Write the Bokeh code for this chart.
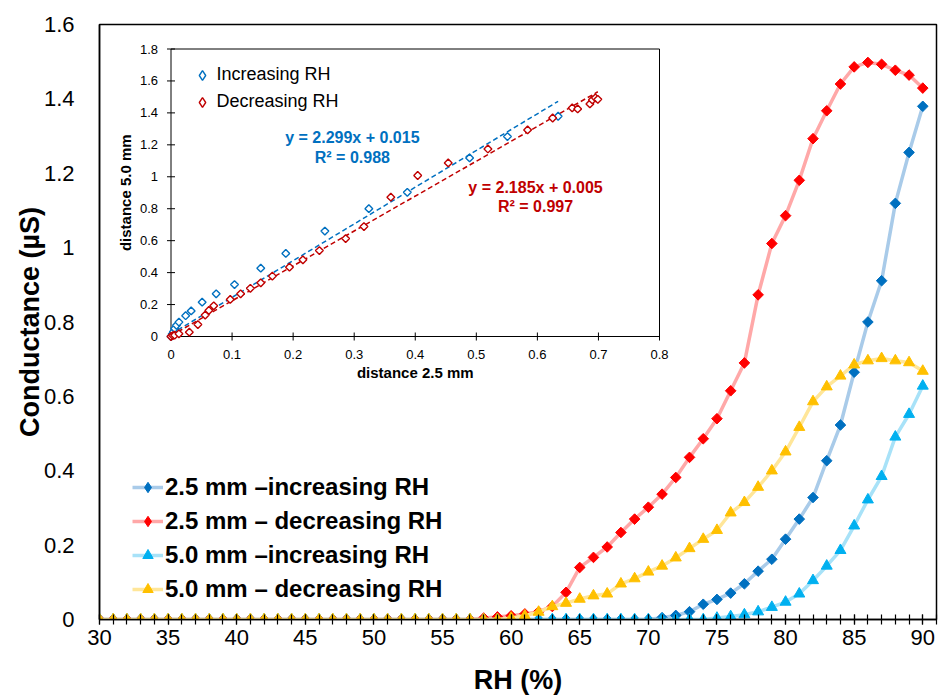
import numpy as np
from bokeh.plotting import figure
from bokeh.models import (Range1d, FixedTicker, NumeralTickFormatter, Legend,
                          LegendItem, ColumnDataSource)
from bokeh.core.properties import value
from bokeh.embed import file_html
from bokeh.resources import INLINE

# ---------------- data: main chart ----------------
rh = [30, 31, 32, 33, 34, 35, 36, 37, 38, 39, 40, 41, 42, 43, 44, 45, 46, 47, 48, 49,
      50, 51, 52, 53, 54, 55, 56, 57, 58, 59, 60, 61, 62, 63, 64, 65, 66, 67, 68, 69,
      70, 71, 72, 73, 74, 75, 76, 77, 78, 79, 80, 81, 82, 83, 84, 85, 86, 87, 88, 89, 90]

cond_25_inc = [0, 0, 0, 0, 0, 0, 0, 0, 0, 0, 0, 0, 0, 0, 0, 0, 0, 0, 0, 0,
               0, 0, 0, 0, 0, 0, 0, 0, 0, 0, 0, 0, 0, 0, 0, 0, 0, 0, 0, 0,
               0, 0.005, 0.011, 0.021, 0.041, 0.054, 0.071, 0.096, 0.130, 0.162,
               0.216, 0.270, 0.328, 0.427, 0.523, 0.665, 0.800, 0.911, 1.119, 1.256, 1.380]

cond_25_dec = [0, 0, 0, 0, 0, 0, 0, 0, 0, 0, 0, 0, 0, 0, 0, 0, 0, 0, 0, 0,
               0, 0, 0, 0, 0, 0, 0, 0, 0.004, 0.007, 0.010, 0.015, 0.021, 0.035, 0.073,
               0.140, 0.167, 0.195, 0.234, 0.270, 0.302, 0.337, 0.382, 0.436, 0.486,
               0.540, 0.615, 0.690, 0.873, 1.011, 1.086, 1.181, 1.293, 1.368, 1.440,
               1.486, 1.498, 1.493, 1.477, 1.464, 1.429]

cond_50_inc = [0, 0, 0, 0, 0, 0, 0, 0, 0, 0, 0, 0, 0, 0, 0, 0, 0, 0, 0, 0,
               0, 0, 0, 0, 0, 0, 0, 0, 0, 0, 0, 0, 0, 0, 0, 0, 0, 0, 0, 0,
               0, 0, 0, 0, 0, 0.004, 0.008, 0.013, 0.021, 0.033, 0.047, 0.069, 0.105,
               0.144, 0.186, 0.252, 0.322, 0.385, 0.491, 0.552, 0.628]

cond_50_dec = [0, 0, 0, 0, 0, 0, 0, 0, 0, 0, 0, 0, 0, 0, 0, 0, 0, 0, 0, 0,
               0, 0, 0, 0, 0, 0, 0, 0, 0, 0, 0.004, 0.010, 0.020, 0.035, 0.044, 0.055,
               0.064, 0.069, 0.096, 0.110, 0.128, 0.144, 0.166, 0.191, 0.216, 0.240,
               0.287, 0.315, 0.356, 0.400, 0.451, 0.517, 0.586, 0.626, 0.655, 0.685,
               0.696, 0.702, 0.696, 0.691, 0.668]

series_labels = ["2.5 mm \u2013increasing RH", "2.5 mm \u2013 decreasing RH",
                 "5.0 mm \u2013increasing RH", "5.0 mm \u2013 decreasing RH"]

x_ticks = [30, 35, 40, 45, 50, 55, 60, 65, 70, 75, 80, 85, 90]
y_ticks = [0, 0.2, 0.4, 0.6, 0.8, 1.0, 1.2, 1.4, 1.6]

# ---------------- data: inset ----------------
inc_x = [0, 0.002, 0.004, 0.006, 0.009, 0.013, 0.024, 0.033, 0.051, 0.074, 0.104,
         0.147, 0.188, 0.252, 0.324, 0.387, 0.489, 0.551, 0.634]
inc_y = [0, 0.015, 0.030, 0.050, 0.070, 0.090, 0.130, 0.160, 0.215, 0.267, 0.325,
         0.428, 0.520, 0.660, 0.800, 0.903, 1.118, 1.252, 1.379]
dec_x = [0, 0.003, 0.006, 0.013, 0.030, 0.044, 0.056, 0.062, 0.070, 0.097, 0.114,
         0.130, 0.147, 0.166, 0.194, 0.216, 0.243, 0.286, 0.316, 0.360, 0.404,
         0.454, 0.519, 0.584, 0.625, 0.657, 0.666, 0.686, 0.690, 0.695, 0.699]
dec_y = [0, 0.006, 0.008, 0.017, 0.027, 0.075, 0.134, 0.163, 0.192, 0.232, 0.267,
         0.302, 0.336, 0.378, 0.434, 0.480, 0.538, 0.613, 0.688, 0.872, 1.008,
         1.087, 1.174, 1.293, 1.368, 1.431, 1.425, 1.456, 1.481, 1.494, 1.485]
inc_fit = (2.299, 0.015, 0.988)
dec_fit = (2.185, 0.005, 0.997)
inset_labels = ["Increasing RH", "Decreasing RH"]
ix_ticks = [0, 0.1, 0.2, 0.3, 0.4, 0.5, 0.6, 0.7, 0.8]
ix_labels = ["0", "0.1", "0.2", "0.3", "0.4", "0.5", "0.6", "0.7", "0.8"]
iy_ticks = [0, 0.2, 0.4, 0.6, 0.8, 1.0, 1.2, 1.4, 1.6, 1.8]
iy_labels = ["0", "0.2", "0.4", "0.6", "0.8", "1", "1.2", "1.4", "1.6", "1.8"]

FONT = "Liberation Sans"

# ---------------- layout constants (pixels) ----------------
W, H = 938, 697
FL, FR, FT, FB = 99, 936, 24, 619           # main frame
IL, IR, IT, IB = 170.5, 659.0, 48.5, 336.0  # inset frame

p = figure(width=W, height=H, output_backend="svg", toolbar_location=None,
           x_range=Range1d(30, 91), y_range=Range1d(0, 1.6),
           min_border_left=FL, min_border_right=W - FR,
           min_border_top=FT, min_border_bottom=H - FB)
p.background_fill_color = "white"
p.border_fill_color = "white"
p.outline_line_color = "black"
p.outline_line_width = 1.5
p.xgrid.visible = False
p.ygrid.visible = False

# x axis
xa = p.xaxis[0]
xa.ticker = FixedTicker(ticks=x_ticks, minor_ticks=rh + [91])
xa.axis_line_color = "black"
xa.axis_line_width = 1.5
xa.major_tick_in = 5
xa.major_tick_out = 5
xa.minor_tick_in = 5
xa.minor_tick_out = 5
xa.major_tick_line_color = "black"
xa.minor_tick_line_color = "black"
xa.major_tick_line_width = 1.2
xa.minor_tick_line_width = 1.2
xa.major_label_text_font = FONT
xa.major_label_text_font_size = "22px"
xa.major_label_text_color = "black"
xa.major_label_standoff = 5
xa.axis_label = "RH (%)"
xa.axis_label_text_font = FONT
xa.axis_label_text_font_size = "27px"
xa.axis_label_text_font_style = "bold"
xa.axis_label_text_color = "black"
xa.axis_label_standoff = 17

# y axis
ya = p.yaxis[0]
ya.ticker = FixedTicker(ticks=y_ticks, minor_ticks=[])
ya.formatter = NumeralTickFormatter(format="0.[0]")
ya.axis_line_color = "black"
ya.axis_line_width = 1.5
ya.major_tick_in = 0
ya.major_tick_out = 0
ya.minor_tick_in = 0
ya.minor_tick_out = 0
ya.major_label_text_font = FONT
ya.major_label_text_font_size = "22px"
ya.major_label_text_color = "black"
ya.major_label_standoff = 25
ya.axis_label = "Conductance (\u00b5S)"
ya.axis_label_text_font = FONT
ya.axis_label_text_font_size = "27px"
ya.axis_label_text_font_style = "bold"
ya.axis_label_text_color = "black"
ya.axis_label_standoff = -4

# ---------------- main series ----------------
# (values, line colour, plot marker, legend-key marker, angle, size, marker colour)
styles = [
    (cond_25_inc, "#A9CBE9", "square", "diamond", np.pi / 4, 7.5, "#0070C0"),
    (cond_25_dec, "#FFA8A8", "square", "diamond", np.pi / 4, 7.5, "#FF0000"),
    (cond_50_inc, "#A8E2F8", "triangle", None, 0.0, 11, "#00B0F0"),
    (cond_50_dec, "#FFE699", "triangle", None, 0.0, 11, "#FFC000"),
]
legend_items = []
for (vals, lc, mk, kmk, ang, sz, mc), lab in zip(styles, series_labels):
    src = ColumnDataSource(dict(x=rh, y=vals))
    ln = p.line("x", "y", source=src, line_color=lc, line_width=3.5)
    key = None
    if kmk is not None:
        # diamond key for the legend, hidden underneath the rotated-square markers
        key = p.scatter("x", "y", source=src, marker=kmk, size=8.5,
                        fill_color=mc, line_color=mc, line_width=1)
    sc = p.scatter("x", "y", source=src, marker=mk, angle=ang, size=sz,
                   fill_color=mc, line_color=mc, line_width=1)
    legend_items.append(LegendItem(label=lab, renderers=[ln, key if key is not None else sc]))

leg = Legend(items=legend_items, location=(33, 16), orientation="vertical",
             label_text_font=FONT, label_text_font_size="24px",
             label_text_font_style="bold", label_text_color="black",
             glyph_width=31, glyph_height=26, label_height=28, label_standoff=2,
             spacing=6, padding=0, margin=0,
             background_fill_alpha=0, border_line_alpha=0)
p.add_layout(leg, "center")

# ---------------- inset (own scales mapped into the inset box) ----------------
ppx = (IR - IL) / (ix_ticks[-1] - ix_ticks[0])
ppy = (IB - IT) / (iy_ticks[-1] - iy_ticks[0])
sx0 = ix_ticks[0] - (IL - FL) / ppx
sy0 = iy_ticks[0] - (FB - IB) / ppy
p.extra_x_ranges = {"ix": Range1d(sx0, sx0 + (FR - FL) / ppx)}
p.extra_y_ranges = {"iy": Range1d(sy0, sy0 + (FB - FT) / ppy)}
kw = dict(x_range_name="ix", y_range_name="iy")

BLUE, RED = "#0070C0", "#C00000"

# inset frame
p.quad(left=[ix_ticks[0]], right=[ix_ticks[-1]], bottom=[iy_ticks[0]], top=[iy_ticks[-1]],
       fill_color="white", line_color="black", line_width=1, **kw)

# tick marks (cross)
tpx = 4.0
p.segment(x0=ix_ticks, x1=ix_ticks, y0=[-tpx / ppy] * len(ix_ticks),
          y1=[tpx / ppy] * len(ix_ticks), line_color="black", line_width=1, **kw)
p.segment(x0=[-tpx / ppx] * len(iy_ticks), x1=[tpx / ppx] * len(iy_ticks),
          y0=iy_ticks, y1=iy_ticks, line_color="black", line_width=1, **kw)

# tick labels
p.text(x=ix_ticks, y=[0] * len(ix_ticks), text=ix_labels, text_align="center",
       text_baseline="middle", y_offset=18, text_font=value(FONT),
       text_font_size="13px", text_color="black", **kw)
p.text(x=[0] * len(iy_ticks), y=iy_ticks, text=iy_labels, text_align="right",
       text_baseline="middle", x_offset=-13, text_font=value(FONT),
       text_font_size="13px", text_color="black", **kw)

# axis titles
p.text(x=[(ix_ticks[0] + ix_ticks[-1]) / 2], y=[0], text=["distance 2.5 mm"],
       text_align="center", text_baseline="middle", y_offset=36,
       text_font=value(FONT), text_font_size="15px", text_font_style="bold",
       text_color="black", **kw)
p.text(x=[0], y=[(iy_ticks[0] + iy_ticks[-1]) / 2], text=["distance 5.0 mm"],
       angle=np.pi / 2, text_align="center", text_baseline="middle", x_offset=-46,
       text_font=value(FONT), text_font_size="15px", text_font_style="bold",
       text_color="black", **kw)

# trend lines
for xs, (m, b, r2), col in [(inc_x, inc_fit, BLUE), (dec_x, dec_fit, RED)]:
    xe = [min(xs), max(xs)]
    p.line(x=xe, y=[m * v + b for v in xe], line_color=col, line_width=1.5,
           line_dash="5 3", **kw)

ikeys = []
for xs, ys, col in [(inc_x, inc_y, BLUE), (dec_x, dec_y, RED)]:
    isrc = ColumnDataSource(dict(x=xs, y=ys))
    # diamond legend key, hidden under the white-filled rotated squares
    ikeys.append(p.scatter("x", "y", source=isrc, marker="diamond", size=6,
                           fill_color="white", line_color=col, line_width=1.4, **kw))
    p.scatter("x", "y", source=isrc, marker="square", angle=np.pi / 4, size=5.5,
              fill_color="white", line_color=col, line_width=1.4, **kw)

# equations
eq_pos = [(0.297, 1.244, 1.122), (0.597, 0.935, 0.816)]
for (m, b, r2), col, (ex, ey1, ey2) in zip([inc_fit, dec_fit], [BLUE, RED], eq_pos):
    p.text(x=[ex, ex], y=[ey1, ey2],
           text=[f"y = {m:.3f}x + {b:.3f}", f"R\u00b2 = {r2:.3f}"],
           text_align="center", text_baseline="middle", text_font=value(FONT),
           text_font_size="16px", text_font_style="bold", text_color=col, **kw)

ileg = Legend(items=[LegendItem(label=inset_labels[0], renderers=[ikeys[0]]),
                     LegendItem(label=inset_labels[1], renderers=[ikeys[1]])],
              location=(90.5, 505.5), label_text_font=FONT, label_text_font_size="18px",
              label_text_color="black", glyph_width=24, glyph_height=24,
              label_height=24, label_standoff=3, spacing=3, padding=0, margin=0,
              background_fill_alpha=0, border_line_alpha=0)
p.add_layout(ileg, "center")

open("out.html", "w").write(file_html(p, INLINE))
